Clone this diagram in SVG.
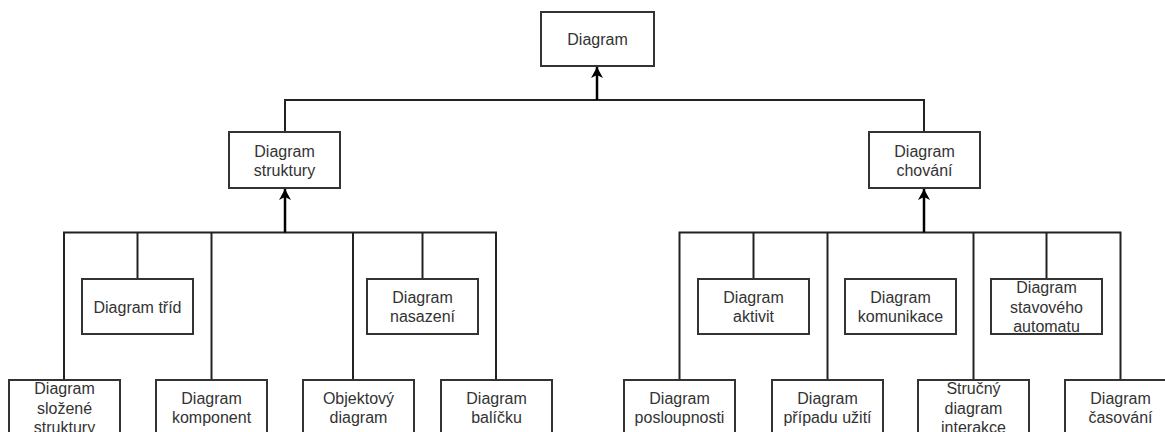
<svg xmlns="http://www.w3.org/2000/svg" width="1165" height="432" viewBox="0 0 1165 432">
  <style>
    .box { fill: #ffffff; stroke: #333333; stroke-width: 2; }
    .lbl { font-family: "Liberation Sans", Arial, sans-serif; font-size: 16px; fill: #333333; text-anchor: middle; }
    .wire { fill: none; stroke: #222222; stroke-width: 2; }
    .shaft { fill: none; stroke: #000000; stroke-width: 2.5; marker-end: url(#head); }
  </style>
  <defs>
    <marker id="head" viewBox="-12 -7 13 14" markerWidth="13" markerHeight="14" refX="0" refY="0" orient="auto" markerUnits="userSpaceOnUse">
      <path d="M0,0 L-11,-6 L-8,0 L-11,6 Z" fill="#000000"/>
    </marker>
  </defs>
  <rect width="1165" height="432" fill="#ffffff"/>

  <!-- connectors -->
  <g id="connectors">
    <!-- root level -->
    <path class="wire" d="M285,132 V100 H924 V132"/>
    <path class="shaft" d="M597,100 V67"/>
    <!-- structure branch -->
    <path class="wire" d="M64,380 V232.5 H496 V380"/>
    <path class="wire" d="M137.5,232.5 V279"/>
    <path class="wire" d="M211.5,232.5 V380"/>
    <path class="wire" d="M353,232.5 V380"/>
    <path class="wire" d="M422.5,232.5 V279"/>
    <path class="shaft" d="M285,232.5 V189"/>
    <!-- behaviour branch -->
    <path class="wire" d="M679.5,380 V232.5 H1120.5 V380"/>
    <path class="wire" d="M753.5,232.5 V279"/>
    <path class="wire" d="M827.5,232.5 V380"/>
    <path class="wire" d="M973.5,232.5 V380"/>
    <path class="wire" d="M1046.5,232.5 V279"/>
    <path class="shaft" d="M924,232.5 V189"/>
  </g>

  <!-- root -->
  <g id="diagram">
    <rect class="box" x="541" y="12" width="113" height="54"/>
    <text class="lbl" x="597.5" y="45">Diagram</text>
  </g>

  <!-- second level -->
  <g id="diagram-struktury">
    <rect class="box" x="229" y="132" width="111" height="56"/>
    <text class="lbl" x="284.5"><tspan x="284.5" y="156.5">Diagram</tspan><tspan x="284.5" y="175.5">struktury</tspan></text>
  </g>
  <g id="diagram-chovani">
    <rect class="box" x="869" y="132" width="111" height="56"/>
    <text class="lbl" x="924.5"><tspan x="924.5" y="156.5">Diagram</tspan><tspan x="924.5" y="175.5">chování</tspan></text>
  </g>

  <!-- structure diagrams -->
  <g id="diagram-trid">
    <rect class="box" x="82" y="279" width="111" height="55"/>
    <text class="lbl" x="137.5" y="312.5">Diagram tříd</text>
  </g>
  <g id="diagram-nasazeni">
    <rect class="box" x="367" y="279" width="111" height="55"/>
    <text class="lbl" x="422.5"><tspan x="422.5" y="303">Diagram</tspan><tspan x="422.5" y="322">nasazení</tspan></text>
  </g>
  <g id="diagram-slozene-struktury">
    <rect class="box" x="9" y="380" width="111" height="55"/>
    <text class="lbl" x="64.5"><tspan x="64.5" y="394">Diagram</tspan><tspan x="64.5" y="413.5">složené</tspan><tspan x="64.5" y="433">struktury</tspan></text>
  </g>
  <g id="diagram-komponent">
    <rect class="box" x="156" y="380" width="111" height="55"/>
    <text class="lbl" x="211.5"><tspan x="211.5" y="404">Diagram</tspan><tspan x="211.5" y="423">komponent</tspan></text>
  </g>
  <g id="objektovy-diagram">
    <rect class="box" x="303" y="380" width="111" height="55"/>
    <text class="lbl" x="358.5"><tspan x="358.5" y="404">Objektový</tspan><tspan x="358.5" y="423">diagram</tspan></text>
  </g>
  <g id="diagram-balicku">
    <rect class="box" x="441" y="380" width="111" height="55"/>
    <text class="lbl" x="496.5"><tspan x="496.5" y="404">Diagram</tspan><tspan x="496.5" y="423">balíčku</tspan></text>
  </g>

  <!-- behaviour diagrams -->
  <g id="diagram-aktivit">
    <rect class="box" x="698" y="279" width="111" height="55"/>
    <text class="lbl" x="753.5"><tspan x="753.5" y="303">Diagram</tspan><tspan x="753.5" y="322">aktivit</tspan></text>
  </g>
  <g id="diagram-komunikace">
    <rect class="box" x="845" y="279" width="111" height="55"/>
    <text class="lbl" x="900.5"><tspan x="900.5" y="303">Diagram</tspan><tspan x="900.5" y="322">komunikace</tspan></text>
  </g>
  <g id="diagram-stavoveho-automatu">
    <rect class="box" x="991" y="279" width="111" height="55"/>
    <text class="lbl" x="1046.5"><tspan x="1046.5" y="293">Diagram</tspan><tspan x="1046.5" y="312.5">stavového</tspan><tspan x="1046.5" y="332">automatu</tspan></text>
  </g>
  <g id="diagram-posloupnosti">
    <rect class="box" x="624" y="380" width="111" height="55"/>
    <text class="lbl" x="679.5"><tspan x="679.5" y="404">Diagram</tspan><tspan x="679.5" y="423">posloupnosti</tspan></text>
  </g>
  <g id="diagram-pripadu-uziti">
    <rect class="box" x="772" y="380" width="111" height="55"/>
    <text class="lbl" x="827.5"><tspan x="827.5" y="404">Diagram</tspan><tspan x="827.5" y="423">případu užití</tspan></text>
  </g>
  <g id="strucny-diagram-interakce">
    <rect class="box" x="918" y="380" width="111" height="55"/>
    <text class="lbl" x="973.5"><tspan x="973.5" y="394">Stručný</tspan><tspan x="973.5" y="413.5">diagram</tspan><tspan x="973.5" y="433">interakce</tspan></text>
  </g>
  <g id="diagram-casovani">
    <rect class="box" x="1065" y="380" width="111" height="55"/>
    <text class="lbl" x="1120.5"><tspan x="1120.5" y="404">Diagram</tspan><tspan x="1120.5" y="423">časování</tspan></text>
  </g>
</svg>
